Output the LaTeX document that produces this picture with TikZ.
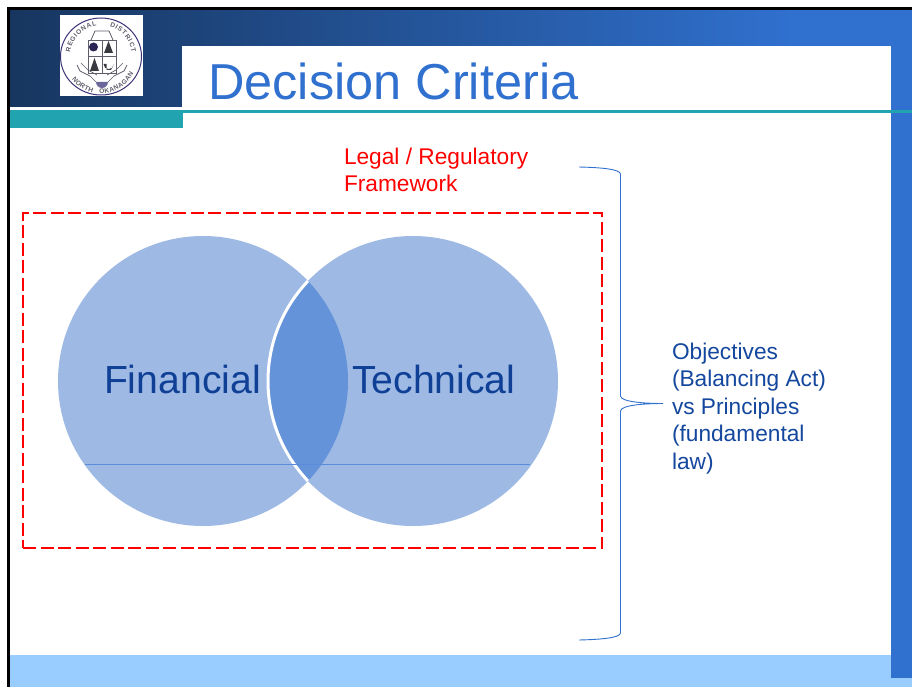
\documentclass[tikz,border=0pt]{standalone}
\usepackage{fontspec}
\setmainfont{Liberation Sans}
\usetikzlibrary{decorations.text}
\definecolor{navy}{HTML}{17365F}
\definecolor{bandblue}{HTML}{3070CE}
\definecolor{teal}{HTML}{22A4B0}
\definecolor{footblue}{HTML}{99CCFF}
\definecolor{circblue}{HTML}{9DB9E4}
\definecolor{overblue}{HTML}{6593DA}
\definecolor{linkblue}{HTML}{5B8CDA}
\definecolor{labelblue}{HTML}{0F4096}
\definecolor{logoink}{HTML}{3B3478}
\definecolor{logotext}{HTML}{5F5F6B}
\tikzset{
  x=1pt,y=-1pt,
  every node/.style={inner sep=0pt,outer sep=0pt},
  bigword/.style={anchor=base west,font=\fontsize{39.2}{39.2}\selectfont,text=labelblue},
  sidetext/.style={anchor=north west,align=left,font=\fontsize{22.7}{27.4}\selectfont},
  braceline/.style={draw=bandblue,line width=0.9pt},
  logotxt/.style={decorate,decoration={text along path,text align=fit to path,
     text={|\fontsize{6.6}{6.6}\selectfont\bfseries\color{logotext}|#1}}}
}
\begin{document}
\begin{tikzpicture}
\useasboundingbox (0,0) rectangle (912,687);
\fill[white] (0,0) rectangle (912,687);
% frame bands
\fill[footblue] (9,655) rectangle (912,687);
\shade[left color=navy,right color=bandblue] (9,10) rectangle (790,107);
\fill[bandblue] (789,10) rectangle (912,107);
\fill[bandblue] (891,46) rectangle (912,678);
\fill[white] (182,46) rectangle (891,110);
\fill[teal] (9,110) rectangle (912,113);
\fill[teal] (9,110) rectangle (183,128);
\fill[black] (7,7) rectangle (912,10);
\fill[black] (7,7) rectangle (10,687);
% logo
\fill[white] (60,15) rectangle (143,96);
\draw[logoink,line width=1pt] (101,56.5) ellipse [x radius=40.5,y radius=38.5];
\begin{scope}[x=1pt,y=1pt,shift={(101pt,-56.5pt)}]
  \path[logotxt={REGIONAL~ ~ ~DISTRICT}] (172:31) arc[start angle=172,end angle=8,radius=31];
  \path[logotxt={NORTH~ ~OKANAGAN}] (218:37) arc[start angle=218,end angle=332,radius=37];
\end{scope}
\draw[logotext,line width=0.9pt] (88,40) rectangle (116,73) (102,40) -- (102,73) (88,56) -- (116,56);
\draw[logotext,line width=0.8pt] (91,40) -- (95,31) -- (109,31) -- (113,40);
\fill[logoink!70!black] (93.5,47) circle [radius=4.5];
\fill[logotext!60!black] (104,53) -- (108.5,41) -- (113,53) -- cycle;
\fill[logotext!60!black] (94.5,58) -- (99,71) -- (90,71) -- cycle;
\fill[logotext!60!black] (103.5,64) arc[start angle=180,end angle=0,radius=5.2] -- (111,70) -- (106.5,70) -- (106.5,64) -- cycle;
\draw[logotext,line width=0.7pt] (77,65) -- (80,71) -- (90,76) -- (96,82) (127,65) -- (124,71) -- (114,76) -- (108,82);
\draw[logotext,line width=0.7pt] (81,63) -- (88,70) -- (97,75) (123,63) -- (116,70) -- (107,75);
\fill[logoink!75] (96,82) arc[start angle=180,end angle=0,radius=6] -- cycle;
% title
\node[anchor=base west,font=\fontsize{50.5}{50.5}\selectfont,text=bandblue] (title) at (208,99.5) {Decision Criteria};
% legal frame
\node[sidetext,text=red] (legal) at (344,147.8) {Legal / Regulatory\\Framework};
\node[draw=red,line width=2.8pt,dash pattern=on 13pt off 4.5pt,minimum width=579pt,minimum height=335pt,anchor=north west] (frame) at (23,213) {};
% Venn
\coordinate (lc) at (203,381);
\coordinate (rc) at (413,381);
\fill[circblue] (lc) circle [radius=145];
\fill[circblue] (rc) circle [radius=145];
\begin{scope}
  \clip (lc) circle [radius=145];
  \fill[overblue] (rc) circle [radius=145];
  \draw[white,line width=3pt] (rc) circle [radius=145];
\end{scope}
\coordinate (basel) at (85,464);
\coordinate (baser) at (530,464);
\draw[linkblue,line width=0.9pt] (basel) -- (baser);
\node[bigword] (fin) at (104,393) {Financial};
\node[bigword] (tech) at (352,393) {Technical};
% brace
\coordinate (bt) at (579,167);
\coordinate (bb) at (579,640);
\coordinate (bm) at (663,403.5);
\draw[braceline] (bt) .. controls (600,167.5) and (620,169) .. (620.5,174)
  -- (620.5,396) .. controls (621,402) and (645,403.5) .. (bm)
  .. controls (645,403.5) and (621,405) .. (620.5,411)
  -- (620.5,633) .. controls (620,638) and (600,639.5) .. (bb);
\node[sidetext,text=labelblue!85!bandblue] (obj) at (672,343) {Objectives\\(Balancing Act)\\vs Principles\\(fundamental\\law)};
\end{tikzpicture}
\end{document}
